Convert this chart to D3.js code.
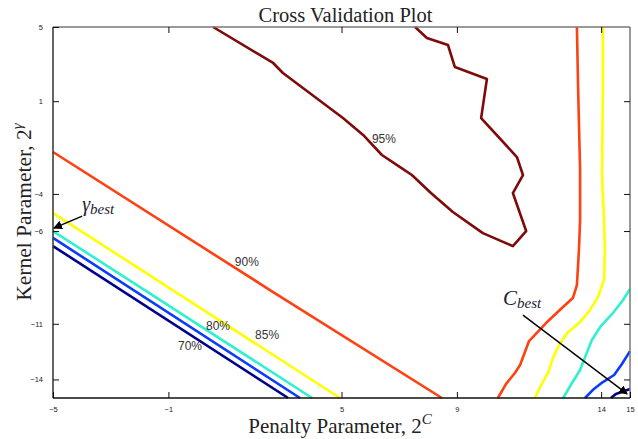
<!DOCTYPE html>
<html>
<head>
<meta charset="utf-8">
<script src="https://cdn.jsdelivr.net/npm/d3@7"></script>
<style>
  body { margin: 0; background: #fff; }
</style>
</head>
<body>
<div id="chart-area"></div>
<script>
// contour lines, [C, gamma] pairs
const c95 = [[0.55,5],[2.63,3.06],[2.97,2.52],[5.05,0.09],[5.75,-0.82],[6.4,-1.9],[7.03,-2.55],[7.44,-2.98],[8.1,-3.95],[8.86,-4.97],[9.9,-6.11],[10.94,-6.81],[11.4,-6.0],[10.94,-3.95],[11.29,-2.98],[11.08,-2.01],[9.84,0.09],[10.04,2.2],[8.93,2.84],[8.69,4.03],[7.96,4.41],[7.55,5]]
const c90a = [[-5,-1.74],[2.52,-9.18],[8.48,-15]]
const c90b = [[13.16,5],[13.2,1.77],[13.27,-2.71],[13.27,-5.4],[13.23,-7.02],[13.16,-8.91],[13.02,-9.61],[12.64,-10.15],[12.09,-10.96],[11.5,-11.93],[11.19,-13.22],[11.01,-13.65],[10.7,-14.25],[10.42,-15]]
const c85a = [[-5,-5.03],[4.95,-15]]
const c85b = [[14.06,5],[14.06,1.77],[14.03,-3.09],[14.1,-5.4],[14.13,-7.02],[14.1,-8.64],[13.89,-9.56],[13.61,-10.26],[13.27,-10.9],[12.82,-11.5],[12.54,-12.14],[12.33,-12.84],[12.16,-13.65],[11.88,-14.41],[11.71,-15]]
const c80a = [[-5,-6.0],[3.98,-15]]
const c80b = [[15,-9.12],[14.76,-9.72],[14.38,-10.47],[13.99,-11.12],[13.68,-11.87],[13.47,-12.68],[13.27,-13.49],[12.99,-14.19],[12.68,-15]]
const c75a = [[-5,-6.37],[3.56,-15]]
const c75b = [[15,-12.47],[14.72,-13.17],[14.45,-13.76],[14.06,-14.14],[13.75,-14.51],[13.44,-15]]
const c70a = [[-5,-6.81],[3.15,-15]]
const c70b = [[15,-14.51],[14.51,-14.78],[14.34,-15]]

const contours = [
  {level: "70%", color: "#000090", parts: [c70a, c70b]},
  {level: "75%", color: "#0a3cff", parts: [c75a, c75b]},
  {level: "80%", color: "#30f0d0", parts: [c80a, c80b]},
  {level: "85%", color: "#ffff00", parts: [c85a, c85b]},
  {level: "90%", color: "#ff4010", parts: [c90a, c90b]},
  {level: "95%", color: "#7f0a0a", parts: [c95]}
]

// label text and where it sits
const labelText = ["95%", "90%", "85%", "80%", "70%"]
const labelC = [6.47, 1.72, 2.42, 0.72, -0.25]
const labelG = [-1.04, -7.67, -11.6, -11.12, -12.2]

const xTicks = [-5, -1, 5, 9, 14, 15]
const yTicks = [5, 1, -4, -6, -11, -14]

const width = 638, height = 439
const mLeft = 53, mRight = 630, mTop = 27, mBottom = 398

const svg = d3.select("#chart-area").append("svg").attr("width", width).attr("height", height)

const x = d3.scaleLinear().domain([-5, 15]).range([mLeft, mRight])
const y = d3.scaleLinear().domain([-15, 5]).range([mBottom, mTop])

const fmt = d => d < 0 ? "\u2212" + Math.abs(d) : String(d)

// contour lines
const line = d3.line().x(d => x(d[0])).y(d => y(d[1]))
contours.forEach(c => {
  c.parts.forEach(p => {
    svg.append("path")
      .attr("d", line(p))
      .attr("fill", "none")
      .attr("stroke", c.color)
      .attr("stroke-width", 2.6)
      .attr("stroke-linejoin", "round")
  })
})

// labels
svg.selectAll("text.lab").data(labelText).enter()
  .append("text")
  .attr("class", "lab")
  .attr("x", (d, i) => x(labelC[i]))
  .attr("y", (d, i) => y(labelG[i]))
  .attr("dy", "0.35em")
  .attr("text-anchor", "middle")
  .attr("font-family", "Liberation Sans, Arial, sans-serif")
  .attr("font-size", 12)
  .attr("fill", "#333")
  .text(d => d)

// axes box
svg.append("line").attr("x1", mLeft).attr("x2", mRight).attr("y1", mTop).attr("y2", mTop).attr("stroke", "#777").attr("stroke-width", 1.5)
svg.append("line").attr("x1", mRight).attr("x2", mRight).attr("y1", mTop).attr("y2", mBottom).attr("stroke", "#777").attr("stroke-width", 1.5)
svg.append("line").attr("x1", mLeft).attr("x2", mLeft).attr("y1", mTop).attr("y2", mBottom).attr("stroke", "#333").attr("stroke-width", 1.5)
svg.append("line").attr("x1", mLeft).attr("x2", mRight).attr("y1", mBottom).attr("y2", mBottom).attr("stroke", "#111").attr("stroke-width", 1.5)

const tickFont = g => g.selectAll("text")
  .attr("font-family", "Liberation Sans, Arial, sans-serif")
  .attr("font-size", 7.5)
  .attr("fill", "#222")

const xAxis = svg.append("g").attr("transform", `translate(0,${mBottom})`)
  .call(d3.axisBottom(x).tickValues(xTicks).tickFormat(fmt).tickSizeInner(-6).tickSizeOuter(0).tickPadding(9))
xAxis.select(".domain").remove()
xAxis.call(tickFont)

const xTop = svg.append("g").attr("transform", `translate(0,${mTop})`)
  .call(d3.axisTop(x).tickValues(xTicks.slice(1, 5)).tickFormat("").tickSizeInner(-6).tickSizeOuter(0))
xTop.select(".domain").remove()

const yAxis = svg.append("g").attr("transform", `translate(${mLeft},0)`)
  .call(d3.axisLeft(y).tickValues(yTicks).tickFormat(fmt).tickSizeInner(-6).tickSizeOuter(0).tickPadding(10))
yAxis.select(".domain").remove()
yAxis.call(tickFont)

const yRight = svg.append("g").attr("transform", `translate(${mRight},0)`)
  .call(d3.axisRight(y).tickValues(yTicks.slice(1)).tickFormat("").tickSizeInner(-6).tickSizeOuter(0))
yRight.select(".domain").remove()

svg.selectAll(".tick line").attr("stroke", "#111").attr("stroke-width", 1)

// title and axis labels
svg.append("text")
  .attr("x", (mLeft + mRight) / 2 + 4).attr("y", 22)
  .attr("text-anchor", "middle")
  .attr("font-family", "Liberation Serif, Times New Roman, serif")
  .attr("font-size", 20.5)
  .attr("fill", "#222")
  .text("Cross Validation Plot")

const xl = svg.append("text")
  .attr("x", 340).attr("y", 433)
  .attr("text-anchor", "middle")
  .attr("font-family", "Liberation Serif, Times New Roman, serif")
  .attr("font-size", 21)
  .attr("fill", "#222")
xl.append("tspan").text("Penalty Parameter, 2")
xl.append("tspan").attr("dy", -9).attr("font-size", 15).attr("font-style", "italic").text("C")

const yl = svg.append("text")
  .attr("transform", "translate(31,212) rotate(-90)")
  .attr("text-anchor", "middle")
  .attr("font-family", "Liberation Serif, Times New Roman, serif")
  .attr("font-size", 21.5)
  .attr("fill", "#222")
yl.append("tspan").text("Kernel Parameter, 2")
yl.append("tspan").attr("dy", -9).attr("font-size", 15).attr("font-style", "italic").text("\u03b3")

// annotations
const arrows = [
  {from: [-3.99, -5.19], to: [-4.97, -5.84]},
  {from: [11.29, -10.53], to: [14.9, -14.78]}
]
svg.append("defs").append("marker")
  .attr("id", "head")
  .attr("viewBox", "0 0 10 10")
  .attr("refX", 9).attr("refY", 5)
  .attr("markerWidth", 9).attr("markerHeight", 9)
  .attr("markerUnits", "userSpaceOnUse")
  .attr("orient", "auto")
  .append("path").attr("d", "M0,0L10,5L0,10Z").attr("fill", "#000")

arrows.forEach(a => {
  svg.append("line")
    .attr("x1", x(a.from[0])).attr("y1", y(a.from[1]))
    .attr("x2", x(a.to[0])).attr("y2", y(a.to[1]))
    .attr("stroke", "#000").attr("stroke-width", 1.4)
    .attr("marker-end", "url(#head)")
})

const gb = svg.append("text")
  .attr("x", x(-3.99)).attr("y", y(-4.92))
  .attr("font-family", "Liberation Serif, Times New Roman, serif")
  .attr("font-style", "italic")
  .attr("fill", "#223")
gb.append("tspan").attr("font-size", 20).text("\u03b3")
gb.append("tspan").attr("font-size", 15).attr("dy", 3).text("best")

const cb = svg.append("text")
  .attr("x", x(10.6)).attr("y", y(-9.99))
  .attr("font-family", "Liberation Serif, Times New Roman, serif")
  .attr("font-style", "italic")
  .attr("fill", "#223")
cb.append("tspan").attr("font-size", 21).text("C")
cb.append("tspan").attr("font-size", 15).attr("dy", 3).text("best")
</script>
</body>
</html>
